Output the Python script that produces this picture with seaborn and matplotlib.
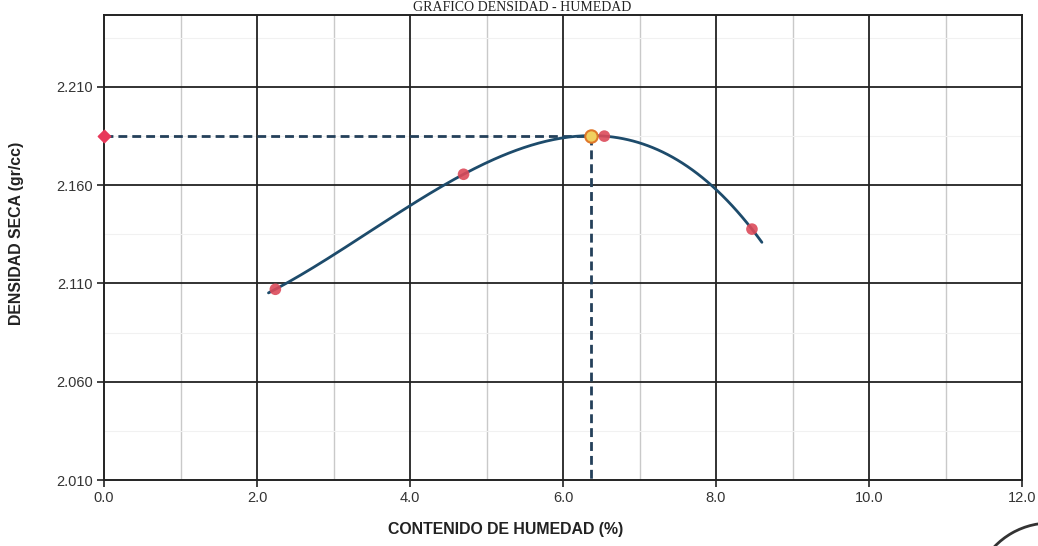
import numpy as np
import pandas as pd
import matplotlib
matplotlib.use("Agg")
import matplotlib.pyplot as plt
from matplotlib.patches import Arc
import seaborn as sns

# Proctor test results: moisture content (%) vs dry density (gr/cc)
humedad = [2.24, 4.70, 6.54, 8.47]
densidad = [2.107, 2.1655, 2.1849, 2.1376]

# Optimum moisture content and maximum dry density
omch = 6.37
mdd = 2.185

# Range covered by the fitted compaction curve
curva_x_min = 2.15
curva_x_max = 8.60

x_ticks = [0.0, 2.0, 4.0, 6.0, 8.0, 10.0, 12.0]
y_ticks = [2.010, 2.060, 2.110, 2.160, 2.210]

sns.set_style("white")
plt.rcParams["font.family"] = ["Liberation Sans", "DejaVu Sans"]

W, H = 1038, 546
fig = plt.figure(figsize=(W / 100, H / 100), dpi=100)
ax_l, ax_r, ax_t, ax_b = 104, 1022, 15, 480
ax = fig.add_axes([ax_l / W, 1 - ax_b / H, (ax_r - ax_l) / W, (ax_b - ax_t) / H])

# grid: dark major lines, light minor lines
for xv in np.arange(1.0, 12.0, 2.0):
    ax.axvline(xv, color="#c9c9c9", lw=1.0, zorder=0)
for yv in np.arange(2.035, 2.24, 0.05):
    ax.axhline(yv, color="#f1f1f1", lw=0.8, zorder=0)
for xv in x_ticks[1:-1]:
    ax.axvline(xv, color="#222222", lw=1.3, zorder=1)
for yv in y_ticks[1:]:
    ax.axhline(yv, color="#222222", lw=1.3, zorder=1)

# fitted compaction curve (cubic through the test points)
coef = np.polyfit(humedad, densidad, 3)
xc = np.linspace(curva_x_min, curva_x_max, 200)
curva = pd.DataFrame({"x": xc, "y": np.polyval(coef, xc)})
sns.lineplot(data=curva, x="x", y="y", ax=ax, color="#1d4b6b", lw=2.0, zorder=4)

# dashed guides to the optimum point
ax.plot([0, omch], [mdd, mdd], ls=(0, (3.2, 1.8)), color="#24405a", lw=2.0, zorder=3)
ax.plot([omch, omch], [mdd, 2.010], ls=(0, (3.2, 1.8)), color="#24405a", lw=2.0, zorder=3)

puntos = pd.DataFrame({"x": humedad, "y": densidad})
sns.scatterplot(data=puntos, x="x", y="y", ax=ax, s=70, color="#dc4a5a",
                edgecolor="none", alpha=0.9, zorder=5)
ax.scatter([omch], [mdd], s=80, facecolor="#f0d060", edgecolor="#e0782a",
           linewidth=1.5, zorder=6)
ax.scatter([0.0], [mdd], s=40, marker="D", color="#e8385a", zorder=6, clip_on=False)

ax.set_xlim(0, 12)
ax.set_ylim(2.010, 2.2465)
ax.set_xticks(x_ticks)
ax.set_xticklabels([f"{v:.1f}" for v in x_ticks], fontsize=10.5)
ax.set_yticks(y_ticks)
ax.set_yticklabels([f"{v:.3f}" for v in y_ticks], fontsize=10.5)
ax.tick_params(axis="both", direction="out", length=5, width=1.2, color="#222222",
               labelcolor="#333333", bottom=True, left=True, pad=3)
for s in ax.spines.values():
    s.set_color("#222222")
    s.set_linewidth(1.4)
ax.set_xlabel("")
ax.set_ylabel("")

fig.text(0.487, 0.017, "CONTENIDO DE HUMEDAD (%)", ha="center", va="bottom",
         fontsize=11.4, fontweight="bold", color="#222222")
fig.text(0.016, 0.572, "DENSIDAD SECA (gr/cc)", ha="center", va="center",
         rotation=90, fontsize=11.4, fontweight="bold", color="#222222")
fig.text(0.503, 0.998, "GRAFICO DENSIDAD - HUMEDAD", ha="center", va="top",
         fontsize=10, family=["Liberation Serif", "DejaVu Serif"], color="#222222")

# stamp edge in the lower right corner
fig.patches.append(Arc((1050 / W, 1 - 600 / H), 2 * 77 / W, 2 * 77 / H,
                       theta1=88, theta2=136, transform=fig.transFigure,
                       color="#333333", lw=2.0))

fig.savefig("out.png", dpi=100)
